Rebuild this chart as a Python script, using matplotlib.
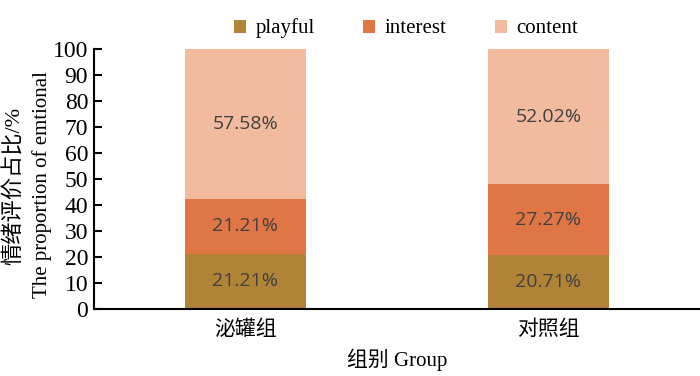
import numpy as np
import matplotlib.pyplot as plt

# 数据
groups = ['泌罐组', '对照组']
series = ['playful', 'interest', 'content']
playful = [21.21, 20.71]
interest = [21.21, 27.27]
content = [57.58, 52.02]
colors = ['#B08336', '#E07646', '#F2BA9E']

serif = ['Liberation Serif', 'Noto Sans CJK SC', 'DejaVu Serif']
cjk = ['Liberation Serif', 'Noto Sans CJK SC']

fig = plt.figure(figsize=(7, 3.76), dpi=100)
ax = fig.add_axes([0.134, 0.178, 0.866, 0.692])

x = np.arange(len(groups))
valores = [playful, interest, content]
base = np.zeros(len(groups))
for nombre, vals, col in zip(series, valores, colors):
    bars = ax.bar(x, vals, 0.4, bottom=base, color=col, label=nombre)
    for xi, b, v in zip(x, base, vals):
        ax.text(xi, b + v / 2, f'{v:.2f}%', ha='center', va='center',
                fontsize=14, color='#404040', family=['Open Sans', 'DejaVu Sans'])
    base = base + np.array(vals)

ax.set_xlim(-0.5, 1.5)
ax.set_ylim(0, 100)
ax.set_yticks(range(0, 101, 10))
ax.set_xticks(x)
ax.set_xticklabels(groups, family=cjk, fontsize=15)
for lbl in ax.get_yticklabels():
    lbl.set_family(serif)
    lbl.set_fontsize(17)
ax.tick_params(axis='y', direction='in', length=6, width=1.5, pad=4)
ax.tick_params(axis='x', length=0, pad=8)
ax.spines['top'].set_visible(False)
ax.spines['right'].set_visible(False)
ax.spines['left'].set_linewidth(1.5)
ax.spines['bottom'].set_linewidth(1.5)

ax.set_xlabel('组别 Group', family=cjk, fontsize=15, labelpad=6)
fig.text(0.021, 0.505, '情绪评价占比/%', rotation=90, ha='center', va='center',
         family=cjk, fontsize=16)
fig.text(0.06, 0.51, 'The proportion of emtional', rotation=90, ha='center',
         va='center', family=serif, fontsize=15)

leg = ax.legend(loc='lower center', bbox_to_anchor=(0.515, 1.0), ncol=3, frameon=False,
                prop={'family': serif, 'size': 15}, handlelength=0.6, handleheight=0.6,
                columnspacing=2.3, handletextpad=0.45, borderaxespad=0.1)

fig.savefig('out.png', dpi=100)
